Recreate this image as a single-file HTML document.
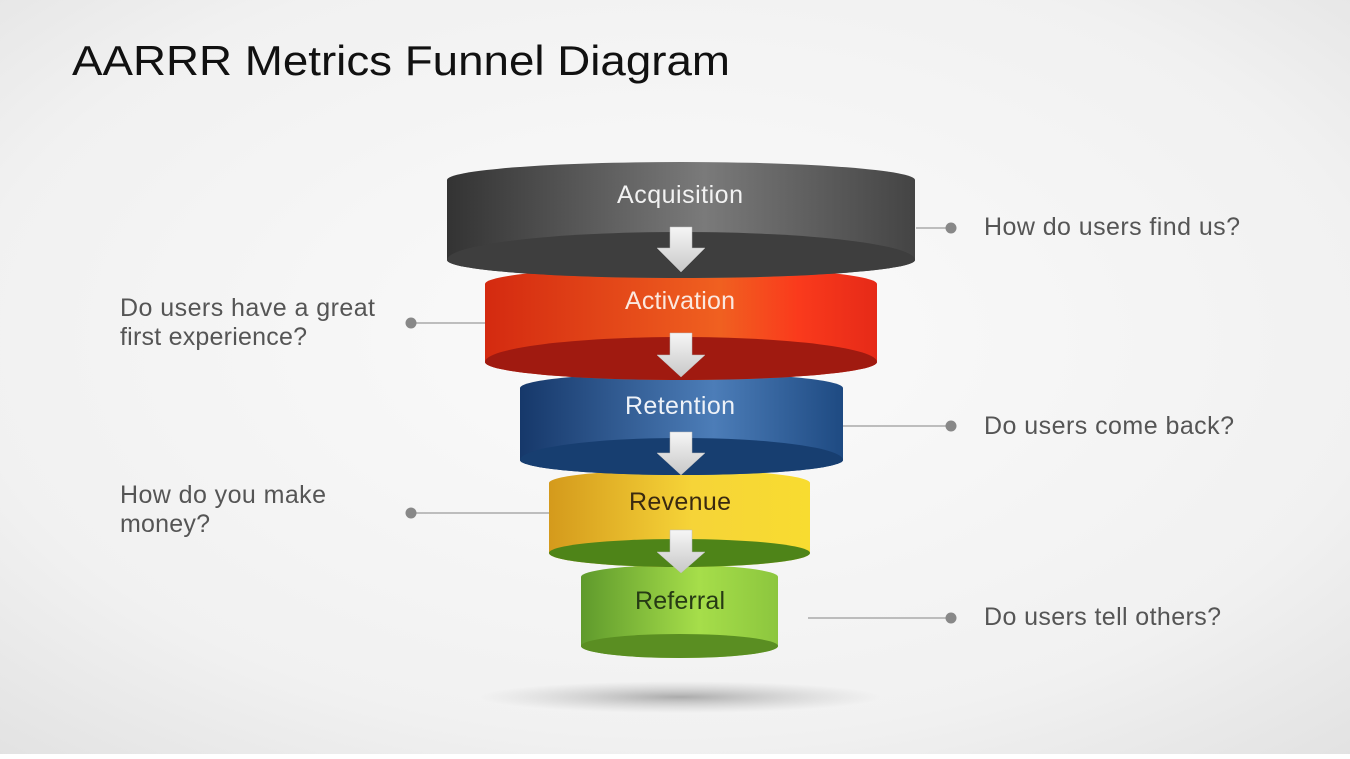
<!DOCTYPE html>
<html><head><meta charset="utf-8"><style>
html,body{margin:0;padding:0;}
body{width:1350px;height:754px;overflow:hidden;}
</style></head><body>
<svg width="1350" height="754" viewBox="0 0 1350 754" xmlns="http://www.w3.org/2000/svg" font-family="Liberation Sans, Arial, sans-serif">
<defs>
<radialGradient id="bg" cx="0.5" cy="0.45" r="0.75">
<stop offset="0" stop-color="#fbfbfb"/><stop offset="0.7" stop-color="#f1f1f1"/><stop offset="1" stop-color="#e2e2e2"/>
</radialGradient>
<linearGradient id="g1" x1="0" x2="1"><stop offset="0" stop-color="#333"/><stop offset="0.55" stop-color="#7a7a7a"/><stop offset="1" stop-color="#444"/></linearGradient>
<linearGradient id="g2" x1="0" x2="1"><stop offset="0" stop-color="#d42a10"/><stop offset="0.6" stop-color="#f06020"/><stop offset="0.8" stop-color="#fa3a1c"/><stop offset="1" stop-color="#e62a18"/></linearGradient>
<linearGradient id="g3" x1="0" x2="1"><stop offset="0" stop-color="#16386a"/><stop offset="0.6" stop-color="#4c7db8"/><stop offset="1" stop-color="#1e4a82"/></linearGradient>
<linearGradient id="g4" x1="0" x2="1"><stop offset="0" stop-color="#d49a1c"/><stop offset="0.55" stop-color="#f6d438"/><stop offset="1" stop-color="#f8dc30"/></linearGradient>
<linearGradient id="g5" x1="0" x2="1"><stop offset="0" stop-color="#5f9a2c"/><stop offset="0.6" stop-color="#a6de4a"/><stop offset="1" stop-color="#8cc63e"/></linearGradient>
<linearGradient id="ar" x1="0" x2="0" y1="0" y2="1"><stop offset="0" stop-color="#f6f6f6"/><stop offset="1" stop-color="#c8c8c8"/></linearGradient>
<radialGradient id="sh"><stop offset="0" stop-color="#999" stop-opacity="0.8"/><stop offset="1" stop-color="#bbb" stop-opacity="0"/></radialGradient>
</defs>
<rect width="1350" height="754" fill="url(#bg)"/>
<text x="72" y="75" font-size="42" fill="#111" font-family="Liberation Sans, sans-serif" textLength="658" lengthAdjust="spacingAndGlyphs">AARRR Metrics Funnel Diagram</text>

<ellipse cx="680" cy="697" rx="200" ry="16" fill="url(#sh)"/>

<g stroke="#aaa" stroke-width="1.5">
<line x1="916" y1="228" x2="951" y2="228"/>
<line x1="411" y1="323" x2="486" y2="323"/>
<line x1="843" y1="426" x2="951" y2="426"/>
<line x1="411" y1="513" x2="550" y2="513"/>
<line x1="808" y1="618" x2="951" y2="618"/>
</g>
<g fill="#888">
<circle cx="951" cy="228" r="5.5"/><circle cx="411" cy="323" r="5.5"/><circle cx="951" cy="426" r="5.5"/><circle cx="411" cy="513" r="5.5"/><circle cx="951" cy="618" r="5.5"/>
</g>
<g font-size="25" fill="#555" lengthAdjust="spacingAndGlyphs">
<text x="984" y="235" textLength="256">How do users find us?</text>
<text x="120" y="316" textLength="255">Do users have a great</text>
<text x="120" y="345" textLength="187">first experience?</text>
<text x="984" y="434" textLength="250">Do users come back?</text>
<text x="120" y="503" textLength="206">How do you make</text>
<text x="120" y="532" textLength="90">money?</text>
<text x="984" y="625" textLength="237">Do users tell others?</text>
</g>

<path d="M581 577 A98.5 12 0 0 1 778 577 L778 646 A98.5 12 0 0 1 581 646 Z" fill="url(#g5)"/>
<ellipse cx="679.5" cy="646" rx="98.5" ry="12" fill="#5a8e22"/>
<path d="M549 483 A130.5 13 0 0 1 810 483 L810 553 A130.5 14 0 0 1 549 553 Z" fill="url(#g4)"/>
<ellipse cx="679.5" cy="553" rx="130.5" ry="14" fill="#4e8418"/>
<path d="M520 388 A161.5 15 0 0 1 843 388 L843 460 A161.5 15 0 0 1 520 460 Z" fill="url(#g3)"/>
<path d="M520 460 A161.5 15 0 0 0 843 460 A161.5 22 0 0 0 520 460 Z" fill="#173e70"/>
<path d="M485 284 A196 17 0 0 1 877 284 L877 362 A196 18 0 0 1 485 362 Z" fill="url(#g2)"/>
<path d="M485 362 A196 18 0 0 0 877 362 A196 25 0 0 0 485 362 Z" fill="#a01a10"/>
<path d="M447 180 A234 18 0 0 1 915 180 L915 260 A234 18 0 0 1 447 260 Z" fill="url(#g1)"/>
<path d="M447 260 A234 18 0 0 0 915 260 A234 28 0 0 0 447 260 Z" fill="#3e3e3e"/>

<g fill="url(#ar)" stroke="#bbb" stroke-width="0.5">
<path d="M670 227 H692 V248 H705 L681 272 L657 248 H670 Z"/>
<path d="M670 333 H692 V355 H705 L681 377 L657 355 H670 Z"/>
<path d="M670 432 H692 V453 H705 L681 475 L657 453 H670 Z"/>
<path d="M670 530 H692 V552 H705 L681 573 L657 552 H670 Z"/>
</g>

<g font-size="25" text-anchor="middle" lengthAdjust="spacingAndGlyphs">
<text x="680" y="203" fill="#f2f2f2" textLength="126">Acquisition</text>
<text x="680" y="309" fill="#fbe8df" textLength="110">Activation</text>
<text x="680" y="414" fill="#eef2f8" textLength="110">Retention</text>
<text x="680" y="510" fill="#3a2a10" textLength="102">Revenue</text>
<text x="680" y="609" fill="#263a14" textLength="90">Referral</text>
</g>
</svg>
</body></html>
